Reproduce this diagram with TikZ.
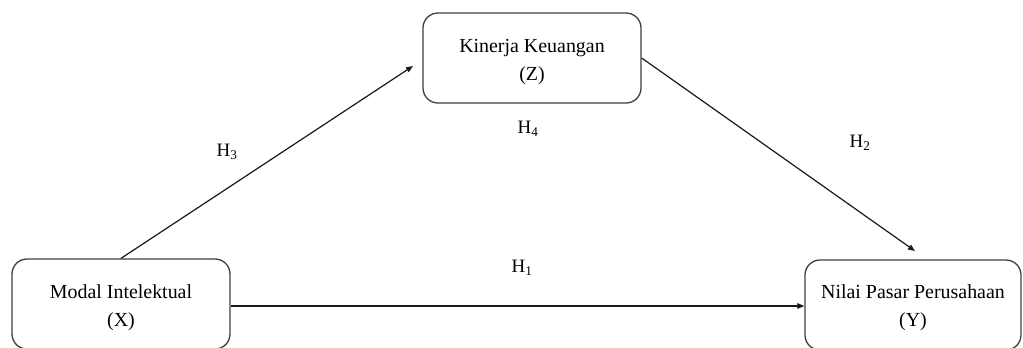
\documentclass[tikz,border=0pt]{standalone}
\usepackage{fontspec}
\setmainfont{Liberation Serif}
\usetikzlibrary{arrows.meta,calc}
\begin{document}
\begin{tikzpicture}[x=1bp,y=-1bp,
  varbox/.style={draw=black!75, line width=1.3bp, rounded corners=15bp, minimum width=218bp, minimum height=90bp, inner sep=0pt},
  vartext/.style={align=center, font=\fontsize{20}{28}\selectfont, inner sep=0pt},
  conn/.style={draw=black!90, line width=1.2bp, -{Triangle[length=7bp,width=5.5bp]}},
  hlab/.style={font=\fontsize{19}{22}\selectfont, inner sep=0pt}]
\clip (0,0) rectangle (1023,347);
\useasboundingbox (0,0) rectangle (1023,347);
\fill[white] (0,0) rectangle (1023,347);
\node[varbox] (X) at (121,304) {};
\node[varbox] (Z) at (532,58) {};
\node[varbox, minimum width=216bp] (Y) at (913,305) {};
\node[vartext] (Xt) at ($(X)+(0,4)$) {Modal Intelektual\\(X)};
\node[vartext] (Zt) at ($(Z)+(0,4)$) {Kinerja Keuangan\\(Z)};
\node[vartext] (Yt) at ($(Y)+(0,3)$) {Nilai Pasar Perusahaan\\(Y)};
\coordinate (zin) at (413,66);
\coordinate (yin) at (915,251);
\draw[conn] (X.north) -- (zin);
\draw[conn] (Z.east) -- (yin);
\draw[conn] ($(X.east)+(0,2)$) -- ($(X.east -| Y.west)+(0,2)$);
\node[hlab] (h3) at (227,152) {H\textsubscript{3}};
\node[hlab] (h4) at (528,129) {H\textsubscript{4}};
\node[hlab] (h2) at (860,143) {H\textsubscript{2}};
\node[hlab] (h1) at (522,268) {H\textsubscript{1}};
\end{tikzpicture}
\end{document}
